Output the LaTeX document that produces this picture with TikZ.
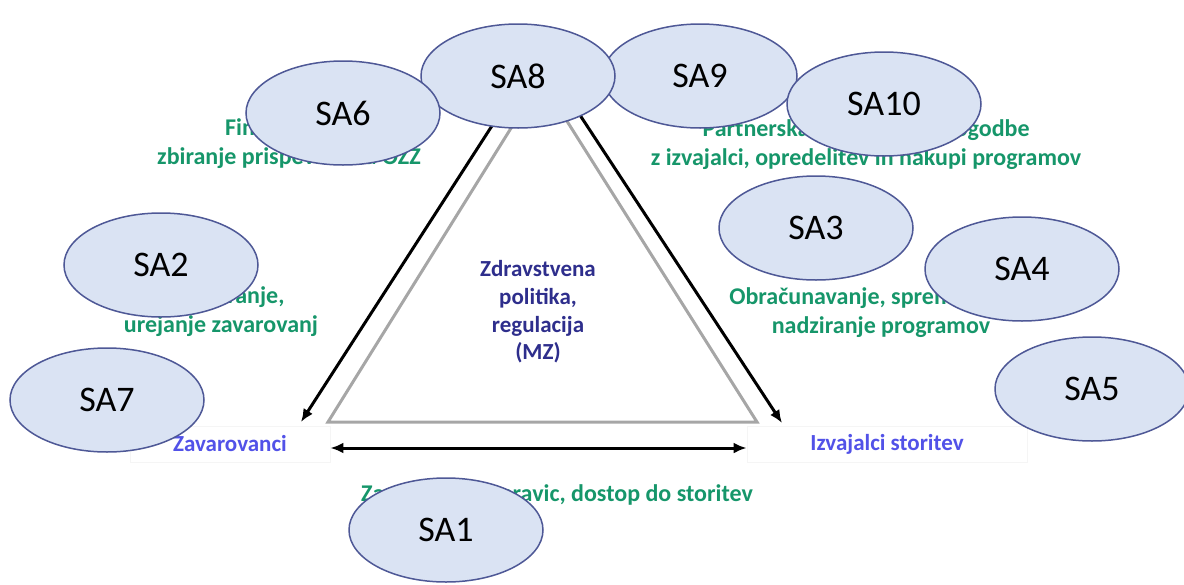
\documentclass[tikz,border=0pt]{standalone}
\usepackage{fontspec}
\setmainfont{Carlito}
\usepackage{xcolor}
\usepackage{tikz}
\usetikzlibrary{arrows.meta,shapes.geometric}
\definecolor{sagreen}{RGB}{22,150,106}
\definecolor{sablue}{RGB}{82,82,232}
\definecolor{sanavy}{RGB}{46,46,140}
\definecolor{safill}{RGB}{218,227,243}
\definecolor{saedge}{RGB}{78,88,150}

\begin{document}
\begin{tikzpicture}[x=0.5pt,y=-0.5pt,
  sa/.style={ellipse,draw=saedge,line width=0.75pt,fill=safill,inner sep=0pt,
    minimum width=97pt,minimum height=52pt,font=\fontsize{18}{20}\selectfont},
  task/.style={align=center,text=sagreen,font=\bfseries\fontsize{12}{14.5}\selectfont},
  party/.style={text=sablue,font=\bfseries\fontsize{11.5}{14}\selectfont,
    draw=black!4,fill=white,minimum height=18pt},
  arr/.style={line width=1.5pt,-{Latex[length=6.5pt,width=5.5pt]}}]
\useasboundingbox (0,0) rectangle (1184,584);
% tasks between the parties
\node[task] (fin) at (289,144) {Financiranje,\\zbiranje prispevkov za OZZ};
\node[task] (zav) at (221,312) {Zavarovanje,\\urejanje zavarovanj};
\node[task] (par) at (866,145) {Partnerska pogajanja in pogodbe\\z izvajalci, opredelitev in nakupi programov};
\node[task] (obr) at (881,313) {Obračunavanje, spremljanje in\\nadziranje programov};
\node[task] (zag) at (557,495) {Zagotavljanje pravic, dostop do storitev};
% triangle
\coordinate (tl) at (328,422);
\coordinate (tr) at (757,422);
\coordinate (tt) at (541,80);
\draw [line width=1.5pt,black!35,line join=miter] (tl) -- (tr) -- (tt) -- cycle;
\node[align=center,text=sanavy,font=\bfseries\fontsize{11.5}{13.8}\selectfont] (mz) at (538,312)
  {Zdravstvena\\politika,\\regulacija\\(MZ)};
% parties
\node[party,minimum width=100pt] (zavarovanci) at (230,444) {Zavarovanci};
\node[party,minimum width=140pt] (izvajalci) at (887,444) {Izvajalci storitev};
\coordinate (la) at (497,118);
\coordinate (lb) at (301,422);
\coordinate (ra) at (574,106);
\coordinate (rb) at (782,423);
\draw [arr] (la) -- (lb);
\draw [arr] (ra) -- (rb);
\draw [line width=1.5pt,{Latex[length=6.5pt,width=5.5pt]}-{Latex[length=6.5pt,width=5.5pt]}]
  ([yshift=-2pt]zavarovanci.east) -- ([yshift=-2pt]izvajalci.west);
% SA bubbles
\node[sa] (sa9) at (700,76) {SA9};
\node[sa] (sa8) at (518,76) {SA8};
\node[sa] (sa6) at (343,113) {SA6};
\node[sa] (sa10) at (884,104) {SA10};
\node[sa] (sa3) at (816,228) {SA3};
\node[sa] (sa4) at (1022,269) {SA4};
\node[sa] (sa5) at (1092,389) {SA5};
\node[sa] (sa2) at (161,265) {SA2};
\node[sa] (sa7) at (107,400) {SA7};
\node[sa] (sa1) at (446,530) {SA1};
\end{tikzpicture}
\end{document}
